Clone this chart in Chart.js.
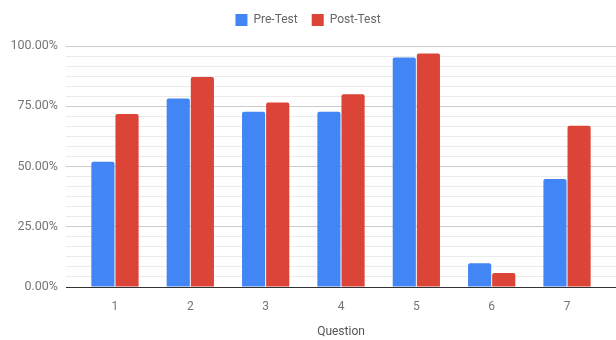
<!DOCTYPE html>
<html>
<head>
<meta charset="utf-8">
<script src="https://cdn.jsdelivr.net/npm/chart.js@4"></script>
<style>
  html, body { margin: 0; padding: 0; background: #fff; }
  #wrap { width: 616px; height: 340px; position: relative; }
</style>
</head>
<body>
<div id="wrap"><canvas id="chart"></canvas></div>
<script>
// Chart data
const questions = ['1', '2', '3', '4', '5', '6', '7'];
const preTest = [52.0, 78.2, 72.7, 72.7, 95.2, 9.9, 44.8];
const postTest = [71.8, 87.1, 76.6, 80.0, 96.9, 5.8, 66.9];
const yMajorTicks = [0, 25, 50, 75, 100];
const minorPerMajor = 6; // 5 minor lines between each major line

// Fix legend height so the plot area starts where the reference does
const legendHeight = {
  id: 'legendHeight',
  beforeInit(chart) {
    const origFit = chart.legend.fit;
    chart.legend.fit = function () {
      origFit.bind(chart.legend)();
      this.height = 46;
    };
  }
};

const ctx = document.getElementById('chart').getContext('2d');
new Chart(ctx, {
  type: 'bar',
  data: {
    datasets: [
      {
        label: 'Pre-Test',
        data: preTest.map((v, i) => ({ x: i + 1, y: v })),
        backgroundColor: '#4285f4',
        borderRadius: 2
      },
      {
        label: 'Post-Test',
        data: postTest.map((v, i) => ({ x: i + 1, y: v })),
        backgroundColor: '#db4437',
        borderRadius: 2
      }
    ]
  },
  options: {
    responsive: true,
    maintainAspectRatio: false,
    animation: false,
    layout: { padding: 0 },
    datasets: {
      bar: { categoryPercentage: 0.64, barPercentage: 0.96 }
    },
    scales: {
      x: {
        type: 'linear',
        offset: false,
        min: 0.35,
        max: 7.65,
        grid: { display: false, offset: false },
        border: { display: true, color: '#333333', width: 1 },
        afterBuildTicks: (scale) => {
          scale.ticks = questions.map((q, i) => ({ value: i + 1 }));
        },
        afterFit: (scale) => { scale.height = 53; },
        ticks: {
          padding: 5,
          color: '#757575',
          font: { family: 'Roboto', size: 12 },
          callback: (value) => questions[Math.round(value) - 1]
        },
        title: {
          display: true,
          text: 'Question',
          color: '#555555',
          font: { family: 'Roboto', size: 12 },
          padding: { top: 4, bottom: 1 }
        }
      },
      y: {
        min: 0,
        max: 100,
        border: { display: false },
        afterBuildTicks: (scale) => {
          const ticks = [];
          const step = (yMajorTicks[1] - yMajorTicks[0]) / minorPerMajor;
          const count = (yMajorTicks.length - 1) * minorPerMajor;
          for (let i = 0; i <= count; i++) ticks.push({ value: i * step });
          scale.ticks = ticks;
        },
        afterFit: (scale) => { scale.width = 66; },
        grid: {
          drawTicks: false,
          color: (c) => (c.index % minorPerMajor === 0 ? '#cccccc' : '#ebebeb'),
          lineWidth: 1
        },
        ticks: {
          padding: 8,
          autoSkip: false,
          color: '#757575',
          font: { family: 'Roboto', size: 12.5 },
          callback: (value, index) =>
            index % minorPerMajor === 0 ? yMajorTicks[index / minorPerMajor].toFixed(2) + '%' : ''
        }
      }
    },
    plugins: {
      legend: {
        display: true,
        position: 'top',
        labels: {
          boxWidth: 12,
          boxHeight: 12,
          padding: 14,
          color: '#666666',
          font: { family: 'Roboto', size: 12 }
        }
      },
      tooltip: { enabled: false }
    }
  },
  plugins: [legendHeight]
});
</script>
</body>
</html>
